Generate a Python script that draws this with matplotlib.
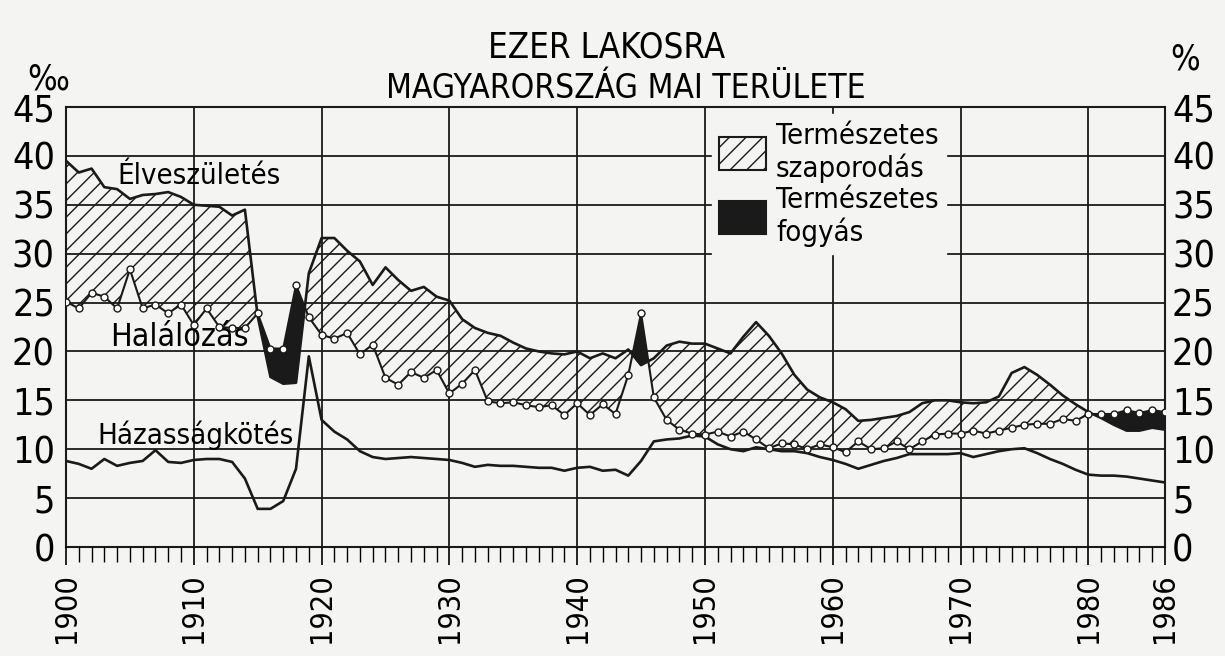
import numpy as np
import matplotlib
matplotlib.use("Agg")
import matplotlib.pyplot as plt
from matplotlib.patches import Patch

# ezer lakosra jutó élveszületés, halálozás, házasságkötés (Magyarország mai területe)
years = np.arange(1900, 1987)

births = [39.5, 38.3, 38.7, 36.8, 36.6, 35.6, 36.0, 36.1, 36.3, 35.8,
          35.0, 34.9, 34.8, 33.9, 34.5, 23.6, 17.4, 16.7, 16.8, 28.0,
          31.6, 31.6, 30.3, 29.2, 26.8, 28.6, 27.3, 26.2, 26.6, 25.6,
          25.2, 23.3, 22.4, 21.9, 21.6, 20.9, 20.3, 20.0, 19.8, 19.7,
          20.0, 19.3, 19.8, 19.3, 20.2, 18.6, 19.3, 20.6, 21.0, 20.8,
          20.8, 20.3, 19.8, 21.5, 23.0, 21.6, 19.8, 17.6, 16.1, 15.3,
          14.8, 14.1, 12.9, 13.0, 13.2, 13.4, 13.8, 14.7, 15.0, 15.0,
          14.8, 14.7, 14.8, 15.4, 17.8, 18.4, 17.6, 16.6, 15.5, 14.6,
          13.8, 13.2, 12.5, 11.9, 11.9, 12.2, 12.0]

deaths = [25.1, 24.4, 26.0, 25.6, 24.4, 28.4, 24.4, 24.8, 23.9, 24.8,
          22.7, 24.4, 22.5, 22.4, 22.4, 23.9, 20.3, 20.3, 26.8, 23.5,
          21.7, 21.3, 21.9, 19.7, 20.7, 17.3, 16.6, 17.9, 17.3, 18.1,
          15.7, 16.7, 18.1, 14.9, 14.7, 14.8, 14.5, 14.3, 14.5, 13.5,
          14.7, 13.5, 14.6, 13.6, 17.6, 23.9, 15.3, 13.0, 12.0, 11.6,
          11.5, 11.8, 11.3, 11.8, 11.0, 10.1, 10.6, 10.5, 10.0, 10.5,
          10.2, 9.7, 10.8, 10.0, 10.1, 10.8, 10.0, 10.8, 11.5, 11.6,
          11.6, 11.9, 11.6, 11.9, 12.2, 12.5, 12.6, 12.6, 13.1, 12.9,
          13.6, 13.6, 13.6, 14.0, 13.7, 14.0, 13.8]

marriages = [8.8, 8.5, 8.0, 9.0, 8.3, 8.6, 8.8, 9.9, 8.7, 8.6,
             8.9, 9.0, 9.0, 8.7, 7.0, 3.9, 3.9, 4.7, 8.0, 19.5,
             13.0, 11.8, 11.0, 9.8, 9.2, 9.0, 9.1, 9.2, 9.1, 9.0,
             8.9, 8.6, 8.2, 8.4, 8.3, 8.3, 8.2, 8.1, 8.1, 7.8,
             8.1, 8.2, 7.8, 7.9, 7.3, 8.8, 10.8, 11.0, 11.1, 11.4,
             11.3, 10.5, 10.0, 9.8, 10.2, 10.0, 9.8, 9.8, 9.6, 9.2,
             8.9, 8.5, 8.0, 8.4, 8.8, 9.1, 9.5, 9.5, 9.5, 9.5,
             9.6, 9.2, 9.5, 9.8, 10.0, 10.1, 9.6, 9.0, 8.5, 7.9,
             7.4, 7.3, 7.3, 7.2, 7.0, 6.8, 6.6]

year_ticks = [1900, 1910, 1920, 1930, 1940, 1950, 1960, 1970, 1980, 1986]
rate_ticks = list(range(0, 50, 5))

b = np.array(births)
d = np.array(deaths)
m = np.array(marriages)

paper = "#f4f4f2"
ink = "#1a1a1a"
plt.rcParams["hatch.linewidth"] = 1.0
plt.rcParams["font.family"] = ["DejaVu Sans"]
cond = dict(fontstretch="condensed")

fig = plt.figure(figsize=(12.25, 6.56), dpi=100, facecolor=paper)
ax = fig.add_axes([66 / 1225, 109 / 656, 1099 / 1225, 440 / 656])
ax.set_facecolor(paper)

# természetes szaporodás / fogyás
ax.fill_between(years, d, b, where=b >= d, interpolate=True,
                facecolor=paper, edgecolor=ink, hatch="//", linewidth=0, zorder=1)
ax.fill_between(years, d, b, where=b < d, interpolate=True,
                facecolor=ink, linewidth=0, zorder=1)

ax.plot(years, b, color=ink, lw=1.9, zorder=3)
ax.plot(years, d, color=ink, lw=1.5, marker="o", ms=5, mfc="white", mec=ink,
        mew=1.0, zorder=4)
ax.plot(years, m, color=ink, lw=1.9, zorder=3)

ax.set_xlim(1900, 1986)
ax.set_ylim(0, 45)

ax.set_xticks(year_ticks)
ax.set_xticks(years, minor=True)
ax.set_xticklabels([str(y) for y in year_ticks], rotation=90, fontsize=22, **cond)
ax.tick_params(axis="x", which="major", direction="out", length=13, width=1.2, pad=6)
ax.tick_params(axis="x", which="minor", direction="out", length=11, width=1.0)

ax.set_yticks(rate_ticks)
ax.set_yticklabels([str(v) for v in rate_ticks], fontsize=27, **cond)
ax.tick_params(axis="y", length=0, pad=8)

ax.grid(True, which="major", color=ink, lw=1.3)
ax.set_axisbelow(False)
for s in ax.spines.values():
    s.set_linewidth(1.5)
    s.set_color(ink)

ax2 = ax.twinx()
ax2.set_ylim(0, 45)
ax2.set_yticks(rate_ticks)
ax2.set_yticklabels([str(v) for v in rate_ticks], fontsize=27, **cond)
ax2.tick_params(axis="y", length=0, pad=5)
for s in ax2.spines.values():
    s.set_visible(False)

# sorok feliratai
ax.text(1910.4, 37.9, "Élveszületés", ha="center", va="center", fontsize=21, **cond)
ax.text(1908.9, 21.4, "Halálozás", ha="center", va="center", fontsize=23, **cond)
ax.text(1910.1, 11.4, "Házasságkötés", ha="center", va="center", fontsize=21, **cond)

handles = [Patch(facecolor=paper, edgecolor=ink, hatch="//", lw=1.5),
           Patch(facecolor=ink, edgecolor=ink, lw=1.5)]
leg = ax.legend(handles, ["Természetes\nszaporodás", "Természetes\nfogyás"],
                loc="upper left", bbox_to_anchor=(0.585, 0.99),
                prop=dict(size=21, stretch="condensed"),
                handlelength=1.6, handleheight=1.4, handletextpad=0.35,
                labelspacing=0.1, borderpad=0.25, borderaxespad=0.1, frameon=True,
                facecolor=paper, edgecolor=paper, framealpha=1.0, fancybox=False)
for t in leg.get_texts():
    t.set_linespacing(1.15)
leg.set_zorder(6)

fig.text(607 / 1225, 1 - 47 / 656, "EZER LAKOSRA", ha="center", va="center",
         fontsize=25, **cond)
fig.text(626 / 1225, 1 - 88 / 656, "MAGYARORSZÁG MAI TERÜLETE", ha="center",
         va="center", fontsize=24, **cond)
fig.text(48 / 1225, 1 - 80 / 656, "‰", ha="center", va="center", fontsize=25, **cond)
fig.text(1185 / 1225, 1 - 60 / 656, "%", ha="center", va="center", fontsize=25, **cond)

fig.savefig("out.png", dpi=100, facecolor=paper)
